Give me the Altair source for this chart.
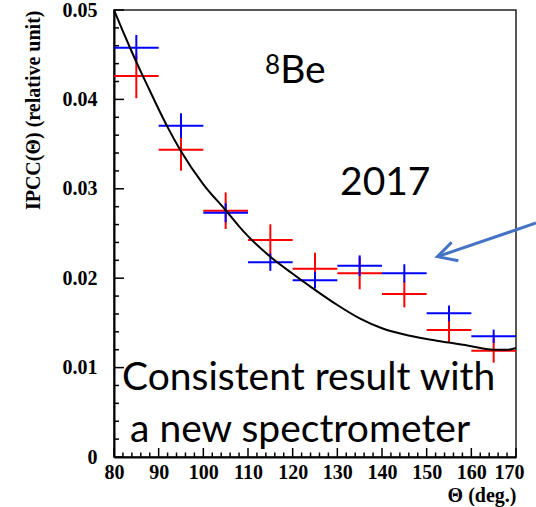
import altair as alt
import pandas as pd

# ---- data ----
theta = [85, 95, 105, 115, 125, 135, 145, 155, 165]
blue_val = [0.04578, 0.03706, 0.02733, 0.02179, 0.01977, 0.02140, 0.02055, 0.01607, 0.01350]
blue_err = [0.00142, 0.00139, 0.00106, 0.00097, 0.00093, 0.00115, 0.00101, 0.00089, 0.00075]
red_val = [0.04262, 0.03437, 0.02755, 0.02427, 0.02106, 0.02055, 0.01823, 0.01421, 0.01189]
red_err = [0.00249, 0.00235, 0.00205, 0.00176, 0.00179, 0.00179, 0.00149, 0.00131, 0.00134]
half_bin = 5

curve_theta = [80, 82, 84, 86, 88, 90, 92, 95, 100, 105, 108, 110, 115, 120, 125,
               130, 135, 140, 145, 150, 155, 160, 163, 165, 168, 170]
curve_val = [0.0500, 0.0476, 0.0453, 0.0431, 0.0410, 0.0389, 0.0369, 0.0342, 0.0305,
             0.0276, 0.0258, 0.0247, 0.0224, 0.0205, 0.0187, 0.0170, 0.0155, 0.0144,
             0.0137, 0.0132, 0.0128, 0.0124, 0.0121, 0.0120, 0.0120, 0.0122]

x_major = [80, 90, 100, 110, 120, 130, 140, 150, 160, 170]
x_minor = [82, 84, 86, 88, 92, 94, 96, 98, 102, 104, 106, 108, 112, 114, 116, 118,
           122, 124, 126, 128, 132, 134, 136, 138, 142, 144, 146, 148, 152, 154, 156,
           158, 162, 164, 166, 168]
y_major = [0, 0.01, 0.02, 0.03, 0.04, 0.05]
y_minor = [0.002, 0.004, 0.006, 0.008, 0.012, 0.014, 0.016, 0.018, 0.022, 0.024,
           0.026, 0.028, 0.032, 0.034, 0.036, 0.038, 0.042, 0.044, 0.046, 0.048]

# annotations (data coordinates)
big_text = ["Be", "2017", "Consistent result with", "a new spectrometer"]
big_x = [117.2, 130.6, 81.8, 83.6]
big_y = [0.0418, 0.0293, 0.0075, 0.0017]
sup_text = ["8"]
sup_x = [113.8]
sup_y = [0.0428]

arrow_x = [174.5, 152.4]
arrow_y = [0.02618, 0.02241]
head_x = [155.6, 152.4, 157.1]
head_y = [0.02402, 0.02241, 0.02196]

# ---- tables ----
pts = pd.DataFrame({
    "theta": theta * 2,
    "val": blue_val + red_val,
    "err": blue_err + red_err,
    "series": ["blue"] * len(theta) + ["red"] * len(theta),
})
pts["lo"] = pts["theta"] - half_bin
pts["hi"] = pts["theta"] + half_bin
pts["ylo"] = pts["val"] - pts["err"]
pts["yhi"] = pts["val"] + pts["err"]
red_df = pts[pts.series == "red"]
blue_df = pts[pts.series == "blue"]

curve = pd.DataFrame({"theta": curve_theta, "val": curve_val})

xs = alt.Scale(domain=[80, 170], nice=False, zero=False)
ys = alt.Scale(domain=[0, 0.05], nice=False)

serif = "Liberation Serif"
xaxis = alt.Axis(values=x_major, title="Θ (deg.)", grid=False, ticks=False, tickSize=0,
                 labelFont=serif, labelFontWeight="bold", labelFontSize=20,
                 labelPadding=5, labelFlush=False, labelColor="black",
                 domainColor="black", domainWidth=2,
                 titleFont=serif, titleFontWeight="bold", titleFontSize=20,
                 titleColor="black", titleAnchor="end", titleAlign="right",
                 titleBaseline="alphabetic", titleX=402, titleY=44,
                 labelOffset={"condition": {"test": "datum.value == 170", "value": -7}, "value": 0})
yaxis = alt.Axis(values=y_major, title="IPCC(Θ) (relative unit)", grid=False,
                 ticks=False, tickSize=0,
                 labelExpr="datum.value == 0 ? '0' : format(datum.value, '.2f')",
                 labelFont=serif, labelFontWeight="bold", labelFontSize=20,
                 labelPadding=17, labelColor="black",
                 domainColor="black", domainWidth=2,
                 titleFont=serif, titleFontWeight="bold", titleFontSize=20,
                 titleColor="black", titleAngle=-90, titleAlign="right",
                 titleBaseline="middle", titleX=-81, titleY=0)


def X(f):
    return alt.X(f, type="quantitative", scale=xs, axis=xaxis)


def Y(f):
    return alt.Y(f, type="quantitative", scale=ys, axis=yaxis)


def bars(df, color):
    h = alt.Chart(df).mark_rule(color=color, strokeWidth=2).encode(
        x=X("lo"), x2="hi", y=Y("val"))
    v = alt.Chart(df).mark_rule(color=color, strokeWidth=2).encode(
        x=X("theta"), y=Y("ylo"), y2="yhi")
    return [h, v]


tick_ymaj = alt.Chart(pd.DataFrame({"v": y_major})).mark_rule(color="black", strokeWidth=1.5).encode(
    y=Y("v"), x=alt.value(0), x2=alt.value(10))
tick_ymin = alt.Chart(pd.DataFrame({"v": y_minor})).mark_rule(color="black", strokeWidth=1.5).encode(
    y=Y("v"), x=alt.value(0), x2=alt.value(5))
tick_xmaj = alt.Chart(pd.DataFrame({"v": x_major})).mark_rule(color="black", strokeWidth=1.5).encode(
    x=X("v"), y=alt.value(447), y2=alt.value(438))
tick_xmin = alt.Chart(pd.DataFrame({"v": x_minor})).mark_rule(color="black", strokeWidth=1.5).encode(
    x=X("v"), y=alt.value(447), y2=alt.value(442.5))

curve_layer = alt.Chart(curve).mark_line(color="black", strokeWidth=2, interpolate="monotone").encode(
    x=X("theta"), y=Y("val"))

big = alt.Chart(pd.DataFrame({"t": big_text, "x": big_x, "y": big_y})).mark_text(
    align="left", baseline="alphabetic", font="Lato", fontSize=39, color="black").encode(
    x=X("x"), y=Y("y"), text="t:N")
sup = alt.Chart(pd.DataFrame({"t": sup_text, "x": sup_x, "y": sup_y})).mark_text(
    align="left", baseline="alphabetic", font="Lato", fontSize=26, color="black").encode(
    x=X("x"), y=Y("y"), text="t:N")

arrow = alt.Chart(pd.DataFrame({"x": arrow_x, "y": arrow_y})).mark_line(
    color="#4472C4", strokeWidth=3).encode(x=X("x"), y=Y("y"))
head = alt.Chart(pd.DataFrame({"x": head_x, "y": head_y, "o": [0, 1, 2]})).mark_line(
    color="#4472C4", strokeWidth=3, strokeJoin="miter").encode(x=X("x"), y=Y("y"), order="o:Q")

layers = ([tick_ymaj, tick_ymin, tick_xmaj, tick_xmin] + bars(red_df, "#ff0000")
          + bars(blue_df, "#0000ff") + [curve_layer, big, sup, arrow, head])

chart = alt.layer(*layers).properties(
    width=402, height=447,
    padding={"left": 114, "top": 10, "right": 20, "bottom": 50},
    autosize=alt.AutoSizeParams(type="none"),
    background="white",
).configure_view(stroke="#222222", strokeWidth=1.5)

chart.save("out.html", embed_options={"renderer": "svg", "actions": False})
